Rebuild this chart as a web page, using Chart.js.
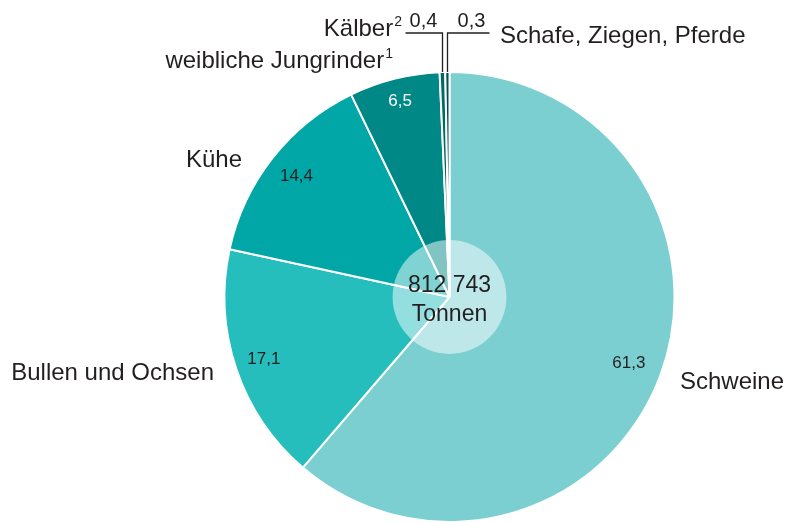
<!DOCTYPE html>
<html>
<head>
<meta charset="utf-8">
<script src="https://cdn.jsdelivr.net/npm/chart.js@4/dist/chart.umd.min.js"></script>
<style>
  html, body { margin: 0; padding: 0; background: #ffffff; }
  #wrap { width: 785px; height: 523px; }
</style>
</head>
<body>
<div id="wrap"><canvas id="c" width="785" height="523"></canvas></div>
<script>
// ---- data ----
const categories = ['Schweine', 'Bullen und Ochsen', 'Kühe', 'weibliche Jungrinder', 'Kälber', 'Schafe, Ziegen, Pferde'];
const superscripts = ['', '', '', '1', '2', ''];
const shares = [61.3, 17.1, 14.4, 6.5, 0.4, 0.3];
const valueLabels = ['61,3', '17,1', '14,4', '6,5', '0,4', '0,3'];
const totalLines = ['812 743', 'Tonnen'];

// ---- styles ----
const sliceColors = ['#7bcfd0', '#26bdbd', '#00a7a6', '#008886', '#006968', '#004f4f'];
const FONT = '"Liberation Sans", Arial, Helvetica, sans-serif';
const TEXT = '#231f20';

const labelPlugin = {
  id: 'labelPlugin',
  afterDatasetsDraw(chart) {
    const ctx = chart.ctx;
    const meta = chart.getDatasetMeta(0);
    const first = meta.data[0].getProps(['x', 'y', 'outerRadius'], true);
    const cx = first.x, cy = first.y, R = first.outerRadius;

    ctx.save();
    // translucent centre disc
    ctx.beginPath();
    ctx.arc(cx, cy, R * 0.253, 0, Math.PI * 2);
    ctx.fillStyle = 'rgba(255,255,255,0.5)';
    ctx.fill();

    // centre text
    ctx.fillStyle = TEXT;
    ctx.textAlign = 'center';
    ctx.textBaseline = 'alphabetic';
    ctx.font = '23px ' + FONT;
    ctx.fillText(totalLines[0], cx, cy - 5);
    ctx.fillText(totalLines[1], cx, cy + 24);

    // value labels inside slices
    const inner = [0.85, 0.87, 0.865, 0.895];
    meta.data.forEach((arc, i) => {
      const p = arc.getProps(['startAngle', 'endAngle'], true);
      const mid = (p.startAngle + p.endAngle) / 2;
      if (i < 4) {
        const r = R * inner[i];
        ctx.font = '17px ' + FONT;
        ctx.fillStyle = i === 3 ? '#ffffff' : TEXT;
        ctx.textAlign = 'center';
        ctx.textBaseline = 'middle';
        ctx.fillText(valueLabels[i], cx + r * Math.cos(mid), cy + r * Math.sin(mid));
      } else {
        // leader lines for the tiny slices
        const x = Math.round(cx + R * Math.cos(mid)) + 0.5;
        const yTop = cy - R - 39;
        const y0 = cy + R * Math.sin(mid);
        const dir = i === 4 ? -1 : 1;
        const len = i === 4 ? 37 : 42;
        ctx.strokeStyle = TEXT;
        ctx.lineWidth = 1.3;
        ctx.beginPath();
        ctx.moveTo(x, y0);
        ctx.lineTo(x, yTop);
        ctx.lineTo(x + dir * len, yTop);
        ctx.stroke();
        ctx.font = '20px ' + FONT;
        ctx.fillStyle = TEXT;
        ctx.textAlign = 'center';
        ctx.textBaseline = 'alphabetic';
        ctx.fillText(valueLabels[i], x + dir * (i === 4 ? 19 : 24), yTop - 6);
      }
    });

    // category labels
    const place = [
      { dx: 230.5, dy: 92, align: 'left' },
      { dx: -235.5, dy: 83, align: 'right' },
      { dx: -207.5, dy: -130, align: 'right' },
      { dx: -56.5, dy: -229, align: 'right' },
      { dx: -47.5, dy: -261, align: 'right' },
      { dx: 50.5, dy: -254, align: 'left' }
    ];
    ctx.fillStyle = TEXT;
    ctx.textBaseline = 'alphabetic';
    categories.forEach((name, i) => {
      const pl = place[i];
      const x = cx + pl.dx, y = cy + pl.dy;
      ctx.font = '24px ' + FONT;
      const sup = superscripts[i];
      if (pl.align === 'right' && sup) {
        ctx.font = '14px ' + FONT;
        const sw = ctx.measureText(sup).width;
        ctx.textAlign = 'right';
        ctx.fillText(sup, x, y - 10);
        ctx.font = '24px ' + FONT;
        ctx.fillText(name, x - sw - 1, y);
      } else {
        ctx.textAlign = pl.align;
        ctx.fillText(name, x, y);
      }
    });
    ctx.restore();
  }
};

new Chart(document.getElementById('c'), {
  type: 'pie',
  data: {
    labels: categories,
    datasets: [{
      data: shares,
      backgroundColor: sliceColors,
      borderColor: '#ffffff',
      borderWidth: 2
    }]
  },
  options: {
    responsive: false,
    animation: false,
    layout: { padding: { left: 223.5, right: 109.5, top: 71, bottom: 0 } },
    plugins: {
      legend: { display: false },
      tooltip: { enabled: false }
    }
  },
  plugins: [labelPlugin]
});
</script>
</body>
</html>
